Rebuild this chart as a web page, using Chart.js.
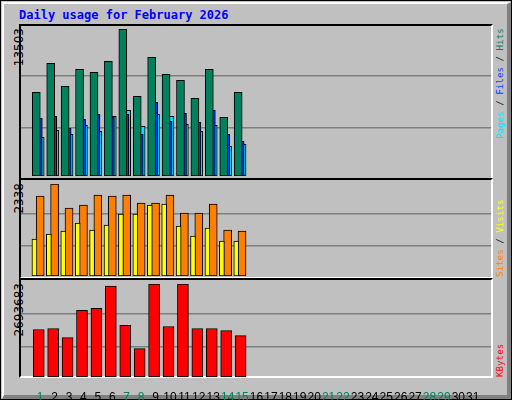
<!DOCTYPE html>
<html><head><meta charset="utf-8">
<script src="https://cdn.jsdelivr.net/npm/chart.js@4/dist/chart.umd.min.js"></script>
<style>
html,body{margin:0;padding:0;}
body{width:512px;height:400px;background:#fff;position:relative;overflow:hidden;}
#frame{position:absolute;left:0;top:0;width:510px;height:398px;border:1px solid #000;background:#c0c0c0;}
#inner{position:absolute;left:1px;top:1px;width:503px;height:391px;border-left:2px solid #fff;border-top:2px solid #fff;border-right:4px solid #808080;border-bottom:4px solid #808080;}
.panel{position:absolute;left:19px;width:470px;border-top:2px solid #000;border-left:2px solid #000;border-right:2px solid #fff;border-bottom:2px solid #fff;}
canvas{position:absolute;}
.t{position:absolute;font-family:"DejaVu Sans Mono",monospace;font-size:12px;white-space:nowrap;}
.rot{position:absolute;transform-origin:0 0;transform:rotate(-90deg);font-family:"DejaVu Sans Mono",monospace;font-size:9.2px;white-space:nowrap;line-height:12px;}
.ylab{position:absolute;transform-origin:0 0;transform:rotate(-90deg);font-family:"DejaVu Sans",sans-serif;font-size:12px;white-space:nowrap;text-align:right;width:80px;}
</style></head><body>
<div id="frame"><div id="inner"></div></div>
<div class="t" style="left:19px;top:8px;color:#0000ff;font-weight:bold;">Daily usage for February 2026</div>
<div class="panel" style="top:24px;height:152px;"></div>
<div class="panel" style="top:178px;height:97px;"></div>
<div class="panel" style="top:278px;height:96px;"></div>
<div class="ylab" id="y1" style="left:12px;top:108px;"></div>
<div class="ylab" id="y2" style="left:12px;top:263px;"></div>
<div class="ylab" id="y3" style="left:12px;top:363px;"></div>
<div class="rot" style="left:494px;top:139px;"><span style="color:#00e0ff">Pages</span> / <span style="color:#0040ff">Files</span> / <span style="color:#00805c">Hits</span></div>
<div class="rot" style="left:494px;top:277px;"><span style="color:#ff8000">Sites</span> / <span style="color:#ffff00">Visits</span></div>
<div class="rot" style="left:494px;top:377px;"><span style="color:#ff0000">KBytes</span></div>
<canvas id="c1" style="left:21px;top:26px;width:470px;height:151px;" width="470" height="151"></canvas>
<canvas id="c2" style="left:21px;top:180px;width:470px;height:97px;" width="470" height="97"></canvas>
<canvas id="c3" style="left:21px;top:280px;width:470px;height:120px;" width="470" height="120"></canvas>
<script>
const days = [1,2,3,4,5,6,7,8,9,10,11,12,13,14,15];
const weekendDays = [1,7,8,14,15,21,22,28,29];
const hits = [7688,10352,8240,9801,9526,10536,13503,7321,10903,9342,8791,7137,9801,5392,7688];
const files = [5300,5484,4381,5208,5668,5420,5668,3830,6770,5025,5760,4933,6035,3830,3187];
const pages = [3555,4198,3830,4657,4106,5484,6035,4565,5668,5484,4749,4106,4657,2728,2912];
const visits = [2033,2338,1728,1804,2058,2033,2058,1855,1855,2058,1601,1601,1830,1169,1144];
const sites = [940,1067,1144,1347,1169,1296,1576,1576,1804,1830,1271,1017,1220,889,889];
const kbytes = [1376112,1405400,1141890,1932430,1990985,2635130,1493240,819820,2693683,1463960,2693683,1405400,1405400,1346840,1200450];
const maxHits = 13503, maxVisits = 2338, maxKB = 2693683;

document.getElementById('y1').textContent = maxHits;
document.getElementById('y2').textContent = maxVisits;
document.getElementById('y3').textContent = maxKB;

const XMIN = 0.195, XMAX = 31.74;
function ds(vals, axis, color, w){
  return {data: vals.map((v,i)=>({x: days[i], y: v})), xAxisID: axis, backgroundColor: color, borderColor:'#000', borderWidth:1, barThickness: w, grouped:false, borderSkipped:false};
}
function yScale(max){
  return {min:0, max:max, display:true, border:{display:false},
    ticks:{display:false, padding:0},
    afterFit: s => { s.width = 0; },
    afterBuildTicks: s => { s.ticks = [{value:max*0.33},{value:max*0.68}]; },
    grid:{color:'#808080', lineWidth:1.5, drawTicks:false}};
}
function xScale(show, off){
  return {type:'linear', min:XMIN-off, max:XMAX-off, display:show, border:{display:false},
    grid:{display:false},
    afterBuildTicks: s => { s.ticks = Array.from({length:31},(_, i)=>({value:i+1})); },
    afterFit: s => { if(show) s.height = 23; },
    ticks:{autoSkip:false, maxRotation:0, padding:5, font:{family:'Liberation Sans', size:12},
      color: c => weekendDays.includes(c.tick.value) ? '#00805c' : '#000',
      callback: v => String(v)}};
}
function make(id, datasets, axes, max, pad){
  const scales = {y: yScale(max)};
  for (const [k, v] of Object.entries(axes)) scales[k] = v;
  new Chart(document.getElementById(id), {type:'bar', data:{datasets},
    options:{responsive:false, animation:false, devicePixelRatio:1,
      layout:{padding:pad},
      plugins:{legend:{display:false}, tooltip:{enabled:false}},
      scales}});
}
make('c1', [ds(hits,'xh','#00805c',8), ds(files,'xf','#0040ff',8), ds(pages,'x','#00e0ff',8)],
  {x:xScale(false,0), xh:xScale(false,-0.27), xf:xScale(false,-0.13)}, maxHits, {top:3,bottom:1,left:0,right:0});
make('c2', [ds(sites,'xs','#ffff00',5), ds(visits,'x','#ff8000',8)],
  {x:xScale(false,0), xs:xScale(false,-0.4)}, maxVisits, {top:4,bottom:1,left:0,right:0});
make('c3', [ds(kbytes,'xk','#ff0000',11)],
  {x:xScale(true,0), xk:xScale(false,-0.1)}, maxKB, {top:4,bottom:0,left:0,right:0});
</script>
</body></html>
